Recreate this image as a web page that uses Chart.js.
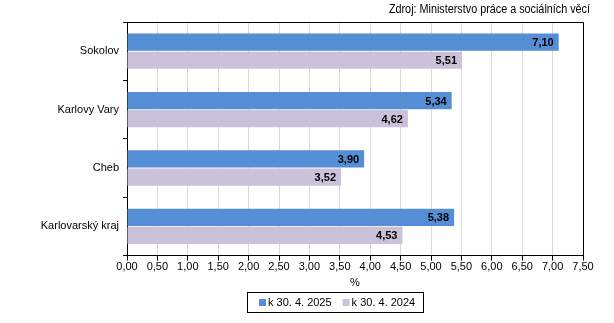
<!DOCTYPE html>
<html>
<head>
<meta charset="utf-8">
<script src="https://cdn.jsdelivr.net/npm/chart.js@4"></script>
<style>
    html, body { margin: 0; padding: 0; background: #fff; }
    #wrap { width: 614px; height: 323px; position: relative; }
</style>
</head>
<body>
<div id="wrap"><canvas id="chart"></canvas></div>
<script>
// Data
const categories = ['Sokolov', 'Karlovy Vary', 'Cheb', 'Karlovarský kraj'];
const seriesNames = ['k 30. 4. 2025', 'k 30. 4. 2024'];
const values2025 = [7.10, 5.34, 3.90, 5.38];
const values2024 = [5.51, 4.62, 3.52, 4.53];
const xTicks = [0, 0.5, 1, 1.5, 2, 2.5, 3, 3.5, 4, 4.5, 5, 5.5, 6, 6.5, 7, 7.5];

const colors = ['#558ed5', '#ccc1da'];
const sourceText = 'Zdroj: Ministerstvo práce a sociálních věcí';
const fontFamily = '"Liberation Sans", Arial, sans-serif';

const fmt = v => v.toFixed(2).replace('.', ',');

// Value labels at the end of each bar
const valueLabels = {
    id: 'valueLabels',
    afterDatasetsDraw(chart) {
        const ctx = chart.ctx;
        ctx.save();
        ctx.font = 'bold 11px ' + fontFamily;
        ctx.fillStyle = '#000';
        ctx.textAlign = 'right';
        ctx.textBaseline = 'middle';
        chart.data.datasets.forEach((ds, i) => {
            chart.getDatasetMeta(i).data.forEach((bar, j) => {
                ctx.fillText(fmt(ds.data[j]), bar.x - 5, bar.y + 1);
            });
        });
        ctx.restore();
    }
};

// Frame, source note and boxed legend
const decorations = {
    id: 'decorations',
    afterDraw(chart) {
        const ctx = chart.ctx;
        const a = chart.chartArea;
        ctx.save();
        ctx.strokeStyle = '#000';
        ctx.lineWidth = 1;
        ctx.beginPath();
        ctx.moveTo(a.left, a.top + 0.5);
        ctx.lineTo(Math.round(a.right) + 0.5, a.top + 0.5);
        ctx.lineTo(Math.round(a.right) + 0.5, a.bottom);
        ctx.stroke();

        // source note (narrow look)
        ctx.fillStyle = '#000';
        ctx.font = '12px ' + fontFamily;
        ctx.textAlign = 'right';
        ctx.textBaseline = 'middle';
        ctx.save();
        ctx.translate(590, 10);
        ctx.scale(0.9, 1);
        ctx.fillText(sourceText, 0, 0);
        ctx.restore();

        // legend
        ctx.font = '11px ' + fontFamily;
        ctx.textAlign = 'left';
        const items = chart.data.datasets.map(d => ({ label: d.label, color: d.backgroundColor }));
        const sq = 7, gapSq = 2, gapItem = 11, padL = 12, padR = 8;
        let w = padL + padR;
        items.forEach((it, i) => {
            w += sq + gapSq + ctx.measureText(it.label).width + (i < items.length - 1 ? gapItem : 0);
        });
        const cx = 335, top = 292, h = 20;
        let x = Math.round(cx - w / 2);
        ctx.strokeRect(x + 0.5, top + 0.5, Math.round(w), h);
        x += padL;
        const my = top + h / 2 + 0.5;
        items.forEach(it => {
            ctx.fillStyle = it.color;
            ctx.fillRect(x, Math.round(my - sq / 2), sq, sq);
            x += sq + gapSq;
            ctx.fillStyle = '#000';
            ctx.fillText(it.label, x, my + 0.5);
            x += ctx.measureText(it.label).width + gapItem;
        });
        ctx.restore();
    }
};

new Chart(document.getElementById('chart'), {
    type: 'bar',
    data: {
        labels: categories,
        datasets: [
            { label: seriesNames[0], data: values2025, backgroundColor: colors[0] },
            { label: seriesNames[1], data: values2024, backgroundColor: colors[1] }
        ]
    },
    options: {
        indexAxis: 'y',
        responsive: true,
        maintainAspectRatio: false,
        animation: false,
        layout: { padding: { top: 22, right: 31, left: 0, bottom: 33 } },
        datasets: { bar: { barPercentage: 0.95, categoryPercentage: 0.62 } },
        plugins: {
            legend: { display: false },
            tooltip: { enabled: false }
        },
        scales: {
            x: {
                min: 0,
                max: 7.5,
                afterBuildTicks: axis => { axis.ticks = xTicks.map(v => ({ value: v })); },
                ticks: {
                    color: '#000',
                    font: { family: fontFamily, size: 11 },
                    padding: 0,
                    maxRotation: 0,
                    callback: v => fmt(v)
                },
                grid: {
                    color: '#d9d9d9',
                    tickColor: '#000',
                    tickLength: 5
                },
                border: { color: '#000' },
                title: {
                    display: true,
                    text: '%',
                    color: '#000',
                    font: { family: fontFamily, size: 11 },
                    padding: { top: 3, bottom: 0 }
                }
            },
            y: {
                afterFit: axis => { axis.width = 127; },
                ticks: {
                    color: '#000',
                    font: { family: fontFamily, size: 11 },
                    padding: 4
                },
                grid: {
                    drawOnChartArea: false,
                    tickColor: '#000',
                    tickLength: 4
                },
                border: { color: '#000' }
            }
        }
    },
    plugins: [valueLabels, decorations]
});
</script>
</body>
</html>
